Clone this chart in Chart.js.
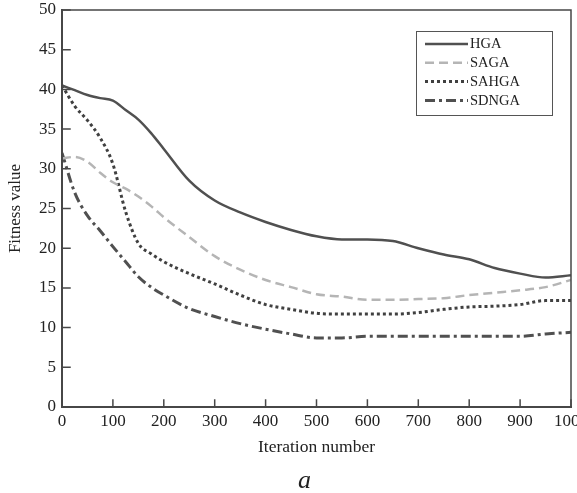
<!DOCTYPE html>
<html>
<head>
<meta charset="utf-8">
<script src="https://cdn.jsdelivr.net/npm/chart.js@4/dist/chart.umd.min.js"></script>
<style>
  html, body { margin: 0; padding: 0; background: #ffffff; }
  #wrap { width: 577px; height: 493px; }
</style>
</head>
<body>
<div id="wrap"><canvas id="c" width="577" height="493"></canvas></div>
<script>
// ---- data ----
const iterations = [0, 25, 50, 75, 100, 125, 150, 175, 200, 250, 300, 350, 400, 450, 500, 550, 600, 650, 700, 750, 800, 850, 900, 950, 1000];
const hga   = [40.5, 39.9, 39.3, 38.9, 38.6, 37.4, 36.2, 34.5, 32.5, 28.5, 26.0, 24.5, 23.3, 22.3, 21.5, 21.1, 21.1, 20.9, 20.0, 19.2, 18.6, 17.5, 16.8, 16.3, 16.6];
const saga  = [31.3, 31.5, 30.9, 29.5, 28.3, 27.5, 26.5, 25.3, 23.9, 21.4, 19.0, 17.3, 16.0, 15.1, 14.2, 13.9, 13.5, 13.5, 13.6, 13.7, 14.1, 14.4, 14.7, 15.1, 16.0];
const sahga = [40.5, 37.9, 36.1, 33.9, 30.6, 24.6, 20.6, 19.3, 18.3, 16.8, 15.5, 14.1, 12.9, 12.3, 11.8, 11.7, 11.7, 11.7, 11.9, 12.3, 12.6, 12.7, 12.9, 13.4, 13.4];
const sdnga = [32.0, 27.0, 24.1, 22.2, 20.2, 18.3, 16.4, 15.1, 14.1, 12.4, 11.4, 10.5, 9.8, 9.2, 8.7, 8.7, 8.9, 8.9, 8.9, 8.9, 8.9, 8.9, 8.9, 9.2, 9.4];
const seriesNames = ['HGA', 'SAGA', 'SAHGA', 'SDNGA'];
const xTickStep = 100;
const yTickStep = 5;
const xMin = 0, xMax = 1000, yMin = 0, yMax = 50;
const xTitle = 'Iteration number';
const yTitle = 'Fitness value';
const panelLabel = 'a';

const SERIF = '"Liberation Serif", "DejaVu Serif", serif';
const pts = arr => iterations.map((x, i) => ({ x: x, y: arr[i] }));

const styles = [
  { borderColor: '#505050', borderWidth: 2.5, borderDash: [] },
  { borderColor: '#b5b5b5', borderWidth: 2.5, borderDash: [9, 5] },
  { borderColor: '#404040', borderWidth: 3, borderDash: [3, 3] },
  { borderColor: '#505050', borderWidth: 3, borderDash: [10, 4, 3, 4] }
];
const values = [hga, saga, sahga, sdnga];

const datasets = seriesNames.map((name, i) => Object.assign({
  label: name,
  data: pts(values[i]),
  pointRadius: 0,
  fill: false,
  cubicInterpolationMode: 'monotone',
  borderCapStyle: 'butt'
}, styles[i]));

// frame, inward ticks, legend box and panel label
const framePlugin = {
  id: 'frame',
  afterDatasetsDraw(chart) {
    const { ctx, chartArea: a, scales } = chart;
    ctx.save();
    ctx.strokeStyle = '#474747';
    ctx.lineCap = 'square';
    ctx.lineWidth = 1.5;
    ctx.beginPath();
    ctx.moveTo(a.left, a.top); ctx.lineTo(a.right, a.top); ctx.lineTo(a.right, a.bottom);
    ctx.stroke();
    ctx.lineWidth = 2;
    ctx.beginPath();
    ctx.moveTo(a.left, a.top); ctx.lineTo(a.left, a.bottom); ctx.lineTo(a.right, a.bottom);
    ctx.stroke();
    ctx.lineWidth = 1.5;
    ctx.beginPath();
    scales.y.ticks.forEach(t => {
      const y = scales.y.getPixelForValue(t.value);
      ctx.moveTo(a.left, y); ctx.lineTo(a.left + 8, y);
    });
    scales.x.ticks.forEach(t => {
      const x = scales.x.getPixelForValue(t.value);
      ctx.moveTo(x, a.bottom); ctx.lineTo(x, a.bottom - 7);
    });
    ctx.stroke();

    // legend
    const bx = a.right - 155, by = a.top + 21, bw = 136, bh = 84;
    ctx.lineWidth = 1;
    ctx.strokeStyle = '#555';
    ctx.fillStyle = '#ffffff';
    ctx.fillRect(bx, by, bw, bh);
    ctx.strokeRect(bx + 0.5, by + 0.5, bw, bh);
    ctx.font = '14.5px ' + SERIF;
    ctx.textBaseline = 'middle';
    ctx.textAlign = 'left';
    chart.data.datasets.forEach((ds, i) => {
      const yy = by + 13 + i * 18.8;
      ctx.save();
      ctx.strokeStyle = ds.borderColor;
      ctx.lineWidth = ds.borderWidth;
      ctx.lineCap = 'butt';
      ctx.setLineDash(ds.borderDash || []);
      ctx.beginPath();
      ctx.moveTo(bx + 9, yy); ctx.lineTo(bx + 52, yy);
      ctx.stroke();
      ctx.restore();
      ctx.fillStyle = '#222';
      ctx.fillText(ds.label, bx + 54, yy + 0.5);
    });

    // panel label below the axis title
    ctx.font = 'italic 26px ' + SERIF;
    ctx.textAlign = 'center';
    ctx.textBaseline = 'middle';
    ctx.fillStyle = '#222';
    ctx.fillText(panelLabel, (a.left + a.right) / 2 - 12, chart.height - 12);
    ctx.restore();
  }
};

new Chart(document.getElementById('c'), {
  type: 'line',
  data: { datasets },
  options: {
    responsive: false,
    animation: false,
    devicePixelRatio: 1,
    layout: { padding: { top: 10, right: 6, left: 0, bottom: 31 } },
    plugins: {
      legend: { display: false },
      tooltip: { enabled: false }
    },
    scales: {
      x: {
        type: 'linear',
        min: xMin, max: xMax,
        grid: { display: false, drawTicks: false },
        border: { display: false },
        ticks: {
          stepSize: xTickStep, autoSkip: false, maxRotation: 0, padding: 4,
          color: '#222', font: { family: SERIF, size: 17 },
          callback: v => String(v)
        },
        title: {
          display: true, text: xTitle, color: '#222',
          font: { family: SERIF, size: 17.5 }, padding: { top: 0, bottom: 4 }
        },
        afterFit(s) { s.height = 55; s.paddingLeft = 0; s.paddingRight = 0; }
      },
      y: {
        min: yMin, max: yMax,
        grid: { display: false, drawTicks: false },
        border: { display: false },
        ticks: {
          stepSize: yTickStep, autoSkip: false, padding: 6,
          color: '#222', font: { family: SERIF, size: 17 },
          callback: v => String(v)
        },
        title: {
          display: true, text: yTitle, color: '#222',
          font: { family: SERIF, size: 17 }, padding: { top: 5, bottom: 0 }
        },
        afterFit(s) { s.width = 62; s.paddingTop = 0; s.paddingBottom = 0; }
      }
    }
  },
  plugins: [framePlugin]
});
</script>
</body>
</html>
